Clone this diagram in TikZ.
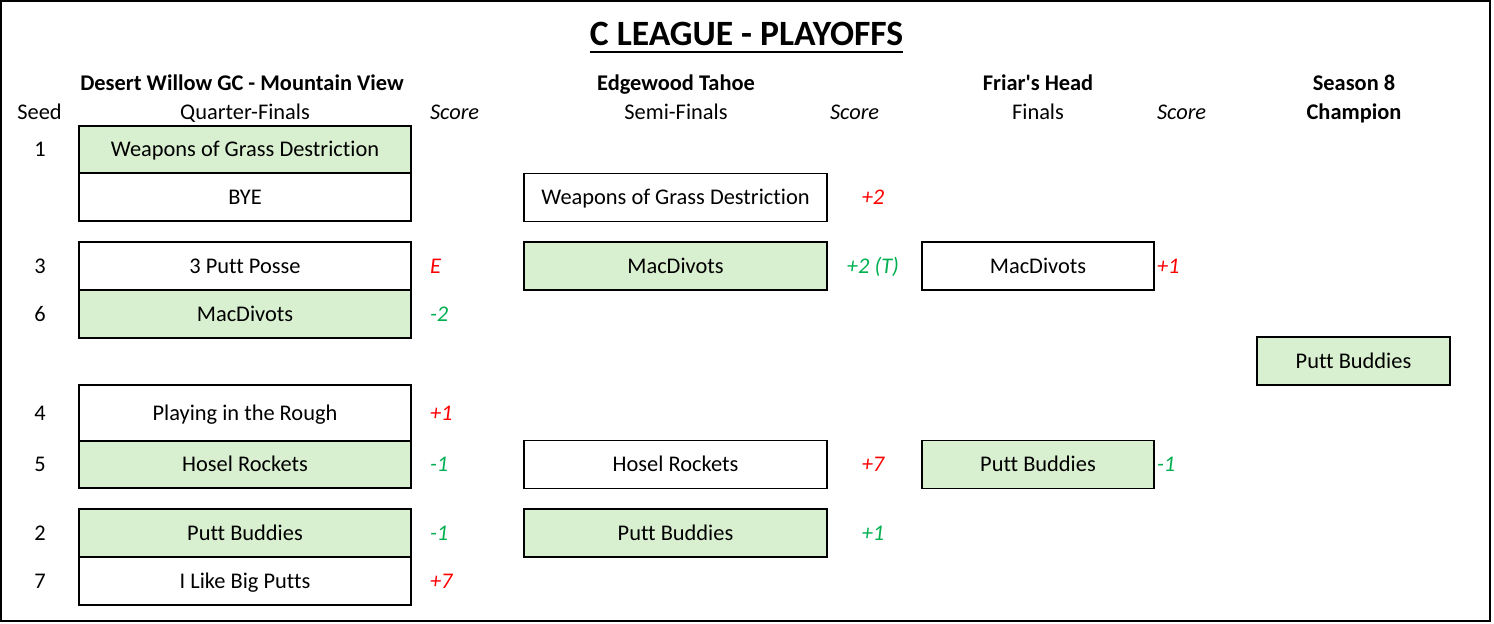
\documentclass[tikz,border=0pt]{standalone}
\usepackage{fontspec}
\setmainfont{Carlito}[Ligatures={TeX,NoCommon}]
\definecolor{wingreen}{RGB}{217,240,208}
\definecolor{scred}{RGB}{255,0,0}
\definecolor{scgreen}{RGB}{0,176,80}
\begin{document}
\begin{tikzpicture}[x=0.5pt,y=-0.5pt,
  every node/.style={inner sep=0pt, outer sep=0pt, text height=7pt, text depth=0pt, font=\fontsize{11.2pt}{13pt}\selectfont},
  box/.style={draw, line width=0.6pt},
  win/.style={box, fill=wingreen},
  qf/.style={minimum width=166pt, minimum height=24pt},
  sf/.style={minimum width=151.5pt, minimum height=24pt},
  fn/.style={minimum width=116pt, minimum height=24pt},
  hdr/.style={font=\fontsize{11.2pt}{13pt}\selectfont\bfseries},
  sc/.style={font=\fontsize{11.2pt}{13pt}\selectfont\itshape},
  lose/.style={sc, text=scred},
  good/.style={sc, text=scgreen},
]
\useasboundingbox (0,0) rectangle (1494,623);
\draw[line width=0.8pt] (1,1) rectangle (1490,621);

% title
\node[font=\fontsize{17.8pt}{21pt}\selectfont\bfseries, text height=10.5pt] (title) at (746.5,35) {C LEAGUE - PLAYOFFS};
\draw[line width=1pt] ([yshift=-3.2pt]title.south west) -- ([yshift=-3.2pt]title.south east);

% headers
\node[hdr] (h1) at (242,83.5) {Desert Willow GC - Mountain View};
\node[hdr] (h2) at (676,83.5) {Edgewood Tahoe};
\node[hdr] (h3) at (1038,83.5) {Friar\textquotesingle s Head};
\node[hdr] (h4) at (1354,83.5) {Season 8};
\node (seedh) at (39.5,112) {Seed};
\node (qfh) at (245,112) {Quarter-Finals};
\node[sc, anchor=west] (sch1) at (430,112) {Score};
\node (sfh) at (676,112) {Semi-Finals};
\node[sc, anchor=west] (sch2) at (830,112) {Score};
\node (fnh) at (1038,112) {Finals};
\node[sc, anchor=west] (sch3) at (1157,112) {Score};
\node[hdr] (champh) at (1354,112) {Champion};

% quarter-finals
\node[win, qf, minimum height=23.5pt] (q1) at (245,149.5) {Weapons of Grass Destriction};
\node[box, qf] (q2) at (245,197) {BYE};
\node[box, qf] (q3) at (245,266) {3 Putt Posse};
\node[win, qf] (q4) at (245,314) {MacDivots};
\node[box, qf, minimum height=28pt] (q5) at (245,413) {Playing in the Rough};
\node[win, qf, minimum height=23.5pt] (q6) at (245,464.5) {Hosel Rockets};
\node[win, qf] (q7) at (245,533) {Putt Buddies};
\node[box, qf] (q8) at (245,581) {I Like Big Putts};

% seeds
\node (sd1) at (40,149.5) {1};
\node (sd3) at (40,266) {3};
\node (sd6) at (40,314) {6};
\node (sd4) at (40,413) {4};
\node (sd5) at (40,464.5) {5};
\node (sd2) at (40,533) {2};
\node (sd7) at (40,581) {7};

% QF scores
\node[lose, anchor=west] (qs3) at (430,266) {E};
\node[good, anchor=west] (qs4) at (430,314) {-2};
\node[lose, anchor=west] (qs5) at (430,413) {+1};
\node[good, anchor=west] (qs6) at (430,464.5) {-1};
\node[good, anchor=west] (qs7) at (430,533) {-1};
\node[lose, anchor=west] (qs8) at (430,581) {+7};

% semi-finals
\node[box, sf] (s1) at (675.5,197.5) {Weapons of Grass Destriction};
\node[win, sf] (s2) at (675.5,266) {MacDivots};
\node[box, sf] (s3) at (675.5,464.5) {Hosel Rockets};
\node[win, sf] (s4) at (675.5,533) {Putt Buddies};
\node[lose] (ss1) at (873,197.5) {+2};
\node[good] (ss2) at (873,266) {+2 (T)};
\node[lose] (ss3) at (873,464.5) {+7};
\node[good] (ss4) at (873,533) {+1};

% finals
\node[box, fn] (f1) at (1038,266) {MacDivots};
\node[win, fn] (f2) at (1038,464.5) {Putt Buddies};
\node[lose, anchor=west] (fs1) at (1157,266) {+1};
\node[good, anchor=west] (fs2) at (1157,464.5) {-1};

% champion
\node[win, minimum width=96.5pt, minimum height=24pt] (champ) at (1353.5,361) {Putt Buddies};
\end{tikzpicture}
\end{document}
